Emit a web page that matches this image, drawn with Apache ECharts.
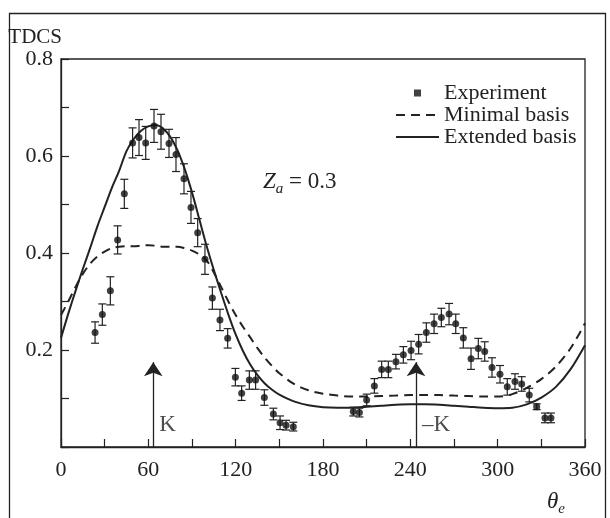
<!DOCTYPE html>
<html><head><meta charset="utf-8">
<script src="https://cdn.jsdelivr.net/npm/echarts@6/dist/echarts.min.js"></script>
<style>html,body{margin:0;padding:0;background:#fff}#c{width:610px;height:518px}</style>
</head><body><div id="c"></div>
<script>
// ---- data ----
const expTheta = [23.4,28.4,33.9,38.9,43.5,49.2,53.6,58.2,63.9,68.7,74.2,79.0,84.5,89.3,93.9,98.9,104.0,109.2,114.5,119.8,124.1,129.4,133.7,139.7,145.9,150.5,154.6,159.6,
  200.8,205.0,210.0,215.3,220.3,224.9,230.1,235.2,240.5,245.7,251.0,256.3,261.3,266.6,271.2,276.4,281.7,286.7,291.1,296.1,301.6,306.6,311.9,316.5,321.7,326.8,332.5,336.6];
const expValue = [0.236,0.273,0.322,0.427,0.522,0.627,0.638,0.627,0.662,0.650,0.626,0.603,0.553,0.494,0.442,0.387,0.307,0.262,0.224,0.144,0.111,0.138,0.138,0.102,0.068,0.050,0.045,0.042,
  0.073,0.071,0.097,0.126,0.160,0.160,0.176,0.190,0.199,0.212,0.236,0.254,0.267,0.274,0.254,0.225,0.182,0.203,0.197,0.164,0.150,0.124,0.135,0.130,0.107,0.083,0.060,0.060];
const expError = [0.022,0.022,0.029,0.029,0.030,0.031,0.037,0.034,0.034,0.036,0.029,0.035,0.031,0.033,0.029,0.031,0.023,0.022,0.020,0.018,0.015,0.019,0.019,0.016,0.012,0.014,0.010,0.009,
  0.009,0.009,0.012,0.015,0.017,0.017,0.015,0.017,0.019,0.020,0.020,0.020,0.019,0.022,0.020,0.021,0.022,0.021,0.020,0.020,0.018,0.017,0.016,0.015,0.014,0.006,0.010,0.010];
const curveTheta = [0,5,10,15,20,25,30,35,40,45,50,55,60,65,70,75,80,85,90,95,100,105,110,115,120,125,130,135,140,145,150,160,170,180,190,200,210,220,230,240,250,260,270,280,290,300,310,320,330,340,350,360];
const extendedBasis = [0.225,0.275,0.322,0.367,0.41,0.455,0.495,0.535,0.57,0.61,0.635,0.652,0.661,0.664,0.657,0.64,0.612,0.573,0.525,0.47,0.415,0.365,0.318,0.273,0.232,0.198,0.17,0.148,0.131,0.118,0.108,0.094,0.086,0.082,0.081,0.081,0.083,0.085,0.087,0.088,0.088,0.087,0.085,0.083,0.081,0.08,0.081,0.088,0.102,0.124,0.16,0.21];
const minimalBasis = [0.272,0.30,0.33,0.357,0.378,0.393,0.403,0.41,0.413,0.414,0.414,0.415,0.416,0.415,0.413,0.413,0.413,0.41,0.405,0.397,0.385,0.36,0.33,0.30,0.272,0.248,0.226,0.204,0.184,0.167,0.152,0.13,0.117,0.11,0.106,0.104,0.104,0.105,0.106,0.107,0.107,0.107,0.106,0.105,0.104,0.104,0.109,0.122,0.14,0.166,0.203,0.255];
const xTickLabels = [0,60,120,180,240,300,360];
const yTickLabels = [0.2,0.4,0.6,0.8];
const arrowTheta = [63.4, 243.9];
const arrowTop = 0.175;
const arrowLabels = ['K', '\u2013K'];
const arrowLabelValue = 0.045;

const FONT = '"Liberation Serif", "DejaVu Serif", serif';
const INK = '#222';

const chart = echarts.init(document.getElementById('c'), null, {renderer:'canvas'});
chart.setOption({
  animation: false,
  backgroundColor: '#fff',
  grid: {left: 61, right: 25, top: 59, bottom: 71, show: true, borderColor: INK, borderWidth: 1.3, backgroundColor: 'transparent'},
  xAxis: {
    type: 'value', min: 0, max: 360, interval: 30,
    axisLine: {lineStyle: {color: INK, width: 1.3}},
    axisTick: {inside: true, length: 8, lineStyle: {color: INK, width: 1.2}},
    splitLine: {show: false},
    axisLabel: {margin: 12, color: INK, fontFamily: FONT, fontSize: 22,
      formatter: v => xTickLabels.includes(Math.round(v)) ? String(Math.round(v)) : ''},
    name: '{t|\u03b8}{s|e}', nameLocation: 'end', nameGap: -38,
    nameTextStyle: {align: 'left', verticalAlign: 'top', padding: [40, 0, 0, 0],
      rich: {t: {fontFamily: FONT, fontStyle: 'italic', fontSize: 23, color: INK, lineHeight: 30, verticalAlign: 'middle'},
             s: {fontFamily: FONT, fontStyle: 'italic', fontSize: 15, color: INK, lineHeight: 30, verticalAlign: 'bottom'}}}
  },
  yAxis: {
    type: 'value', min: 0, max: 0.8, interval: 0.1,
    axisLine: {show: true, lineStyle: {color: INK, width: 1.3}},
    axisTick: {show: true, inside: true, length: 8, lineStyle: {color: INK, width: 1.2}},
    splitLine: {show: false},
    axisLabel: {margin: 8, color: INK, fontFamily: FONT, fontSize: 22,
      formatter: v => { const r = Math.round(v * 10) / 10; return yTickLabels.includes(r) ? r.toFixed(1) : ''; }},
    name: 'TDCS', nameLocation: 'end', nameGap: 20,
    nameTextStyle: {align: 'right', verticalAlign: 'middle', color: INK, fontFamily: FONT, fontSize: 21, padding: [0, -1, 0, 0]}
  },
  legend: {
    orient: 'vertical', left: 390, top: 77, itemWidth: 43, itemHeight: 7, itemGap: 0,
    symbolKeepAspect: true,
    textStyle: {fontFamily: FONT, fontSize: 22, color: INK, lineHeight: 22},
    data: [
      {name: 'Experiment', icon: 'path://M0,0L1,0L1,1L0,1Z'},
      {name: 'Minimal basis', itemStyle: {opacity: 0}},
      {name: 'Extended basis', itemStyle: {opacity: 0}}
    ]
  },
  graphic: [
    {type: 'rect', left: 7, top: 11, shape: {width: 596, height: 540}, style: {fill: 'none', stroke: INK, lineWidth: 1.3}, silent: true},
    {type: 'text', left: 263, top: 170, silent: true,
      style: {text: '{z|Z}{a|a}{e| = 0.3}', rich: {
        z: {fontFamily: FONT, fontStyle: 'italic', fontSize: 23, fill: INK, lineHeight: 30, verticalAlign: 'middle'},
        a: {fontFamily: FONT, fontStyle: 'italic', fontSize: 15, fill: INK, lineHeight: 30, verticalAlign: 'bottom'},
        e: {fontFamily: FONT, fontSize: 23, fill: INK, lineHeight: 30, verticalAlign: 'middle'}}}}
  ],
  series: [
    {name: 'Minimal basis', type: 'line', data: curveTheta.map((t, i) => [t, minimalBasis[i]]),
      smooth: 0.3, symbol: 'none', lineStyle: {color: INK, width: 2, type: [9, 6]}, itemStyle: {color: INK}, z: 2},
    {name: 'Extended basis', type: 'line', data: curveTheta.map((t, i) => [t, extendedBasis[i]]),
      smooth: 0.3, symbol: 'none', lineStyle: {color: INK, width: 2}, itemStyle: {color: INK}, z: 2},
    {name: 'errorbars', type: 'custom', z: 3, silent: true,
      data: expTheta.map((t, i) => [t, expValue[i], expError[i]]),
      renderItem: (params, api) => {
        const x = api.value(0), y = api.value(1), e = api.value(2);
        const lo = api.coord([x, y - e]), hi = api.coord([x, y + e]);
        const w = 4, st = {stroke: INK, lineWidth: 1.2};
        return {type: 'group', children: [
          {type: 'line', shape: {x1: lo[0], y1: lo[1], x2: hi[0], y2: hi[1]}, style: st},
          {type: 'line', shape: {x1: lo[0] - w, y1: lo[1], x2: lo[0] + w, y2: lo[1]}, style: st},
          {type: 'line', shape: {x1: hi[0] - w, y1: hi[1], x2: hi[0] + w, y2: hi[1]}, style: st}
        ]};
      }},
    {name: 'Experiment', type: 'scatter', z: 4, symbol: 'circle', symbolSize: 7,
      data: expTheta.map((t, i) => [t, expValue[i]]), itemStyle: {color: '#111'}},
    {name: 'arrows', type: 'scatter', z: 5, silent: true, symbolSize: 0,
      data: arrowTheta.map((t, i) => ({value: [t, arrowLabelValue], label: {formatter: arrowLabels[i]}})),
      label: {show: true, position: 'right', distance: 6, color: INK, fontFamily: FONT, fontSize: 23},
      markLine: {silent: true, symbol: ['none', 'arrow'], symbolSize: 14, label: {show: false},
        lineStyle: {color: INK, width: 1.3, type: 'solid'},
        data: arrowTheta.map(t => [{coord: [t, 0]}, {coord: [t, arrowTop]}])}}
  ]
});
</script></body></html>
